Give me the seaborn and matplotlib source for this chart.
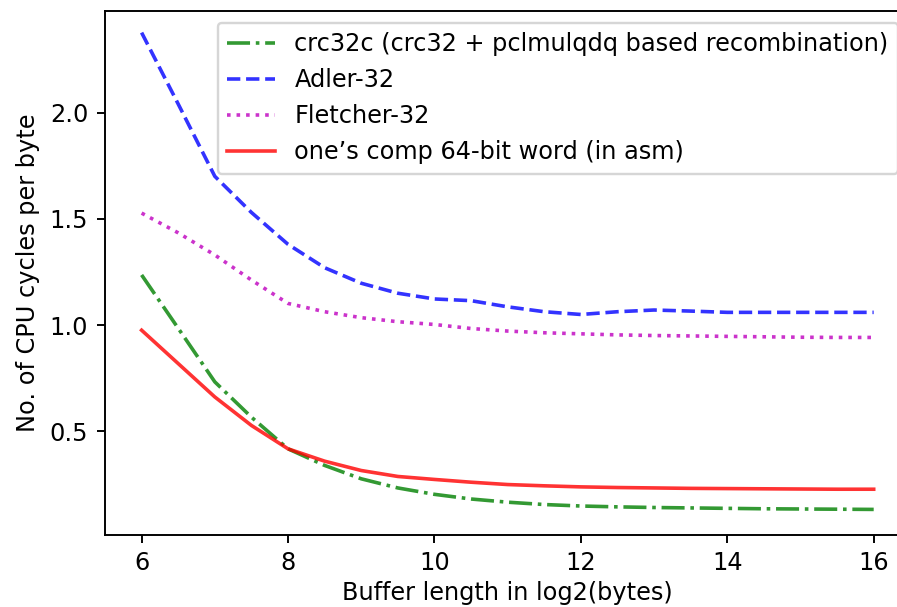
import matplotlib
matplotlib.use("Agg")
import matplotlib.pyplot as plt
import seaborn as sns
import numpy as np

log2_len = [6, 6.5, 7, 7.5, 8, 8.5, 9, 9.5, 10, 10.5, 11, 11.5, 12, 12.5, 13, 13.5, 14, 14.5, 15, 15.5, 16]

crc32c = [1.236, 0.985, 0.733, 0.567, 0.418, 0.340, 0.277, 0.234, 0.204, 0.182, 0.167, 0.156,
          0.149, 0.145, 0.142, 0.140, 0.138, 0.136, 0.135, 0.134, 0.133]
adler32 = [2.376, 2.04, 1.70, 1.53, 1.38, 1.27, 1.197, 1.15, 1.123, 1.115, 1.086, 1.063,
           1.050, 1.063, 1.071, 1.066, 1.060, 1.060, 1.060, 1.060, 1.060]
fletcher32 = [1.527, 1.434, 1.33, 1.212, 1.102, 1.063, 1.035, 1.016, 1.003, 0.984, 0.972, 0.964,
              0.959, 0.954, 0.951, 0.949, 0.947, 0.945, 0.943, 0.942, 0.942]
onescomp = [0.976, 0.819, 0.662, 0.528, 0.418, 0.360, 0.316, 0.288, 0.274, 0.261, 0.250, 0.244,
            0.239, 0.236, 0.234, 0.232, 0.231, 0.230, 0.229, 0.228, 0.228]

labels = ["crc32c (crc32 + pclmulqdq based recombination)", "Adler-32",
          "Fletcher-32", "one\u2019s comp 64-bit word (in asm)"]

dpi = 172.8
fig = plt.figure(figsize=(897 / dpi, 607 / dpi), dpi=dpi)
ax = fig.add_axes([105 / 897, (607 - 534.5) / 607, (910.3 - 105) / 897, (534.5 - 10.5) / 607])

series = [(crc32c, "g", "-."), (adler32, "b", "--"), (fletcher32, "m", ":"), (onescomp, "r", "-")]
for (vals, col, ls), lab in zip(series, labels):
    sns.lineplot(x=log2_len, y=vals, color=col, linestyle=ls, alpha=0.8, label=lab, ax=ax, lw=1.5)

ax.set_xlabel("Buffer length in log2(bytes)", labelpad=2.5)
ax.set_ylabel("No. of CPU cycles per byte")
ax.set_xticks([6, 8, 10, 12, 14, 16])
ax.set_yticks([0.5, 1.0, 1.5, 2.0])
ax.set_xlim(5.5, 16.5)
ax.set_ylim(0.015, 2.48)
ax.legend(loc="upper right")

fig.savefig("out.png", dpi=dpi)
